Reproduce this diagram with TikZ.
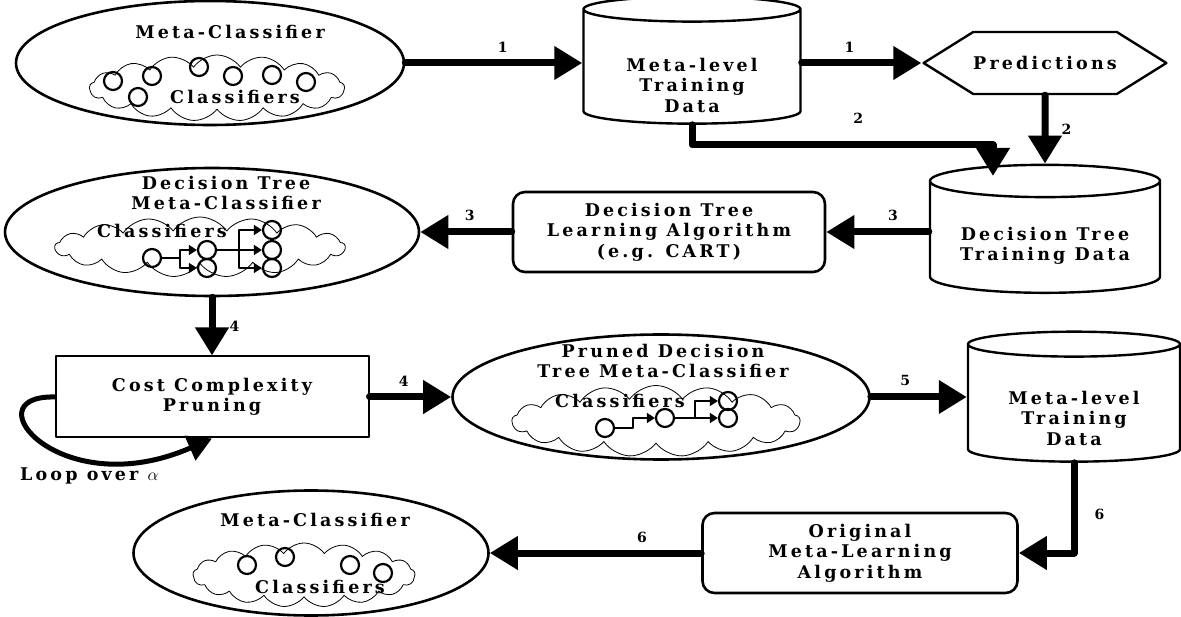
\documentclass[tikz,border=0pt]{standalone}
\usepackage{fontspec}
\setmainfont{DejaVu Serif}[LetterSpace=18]
\usetikzlibrary{arrows.meta,shapes.geometric,shapes.symbols}
\begin{document}
\begin{tikzpicture}[line cap=round,line join=round,x=1pt,y=-1pt,
  txt/.style={font=\bfseries\fontsize{17.5}{20.5}\selectfont,align=center,inner sep=0pt},
  num/.style={font=\bfseries\fontsize{14}{17}\selectfont,inner sep=0pt},
  flow/.style={-{Triangle[length=28pt,width=32pt]},line width=7pt},
  blob/.style={ellipse,draw,line width=2.6pt,inner sep=0pt},
  store/.style={cylinder,shape border rotate=90,draw,line width=2.4pt,aspect=0.19,txt},
  algbox/.style={rectangle,rounded corners=12pt,draw,line width=2.6pt,txt},
  puff/.style={cloud,cloud puffs=17,cloud puff arc=110,cloud ignores aspect,draw,line width=0.8pt,inner sep=0pt},
  clf/.style={circle,draw,line width=2.2pt,minimum size=18pt,inner sep=0pt},
  twig/.style={-{Triangle[length=8pt,width=10pt]},line width=1.3pt}]
\useasboundingbox (0,0) rectangle (1181,617);
% top row
\node[blob,minimum width=388pt,minimum height=124pt] (mca) at (210,63) {};
\node[txt] (mcatitle) at (230,32) {Meta-Classifier};
\node[puff,minimum width=255pt,minimum height=66pt] (clouda) at (217,88) {};
\foreach \cx/\cy [count=\i] in {113/81,152/76,199/67,233/76,272/75,306/82,138/97}
  \node[clf] (ca\i) at (\cx,\cy) {};
\node[txt] (clfa) at (235,97) {Classifiers};
\node[store,minimum width=217pt,minimum height=127pt] (metaa) at (692,67) {\phantom{Meta-level}\\\phantom{Training}\\\phantom{Data}};
\node[txt] (metaatxt) at (692,85) {Meta-level\\Training\\Data};
\node[signal,signal to=west and east,signal pointer angle=64,draw,line width=2.4pt,
  minimum width=206pt,minimum height=62pt,txt] (pred) at (1045,63) {Predictions};
\draw[flow] (mca.east) -- node[num,above=6.5pt,pos=0.55] {1} (mca.east -| metaa.west);
\draw[flow] (metaa.east |- pred.west) -- node[num,above=6.5pt,pos=0.4] {1} (pred.west);
% second row
\node[store,minimum width=230pt,minimum height=128pt] (dttd) at (1045,237.5) {\phantom{Decision Tree}\\\phantom{Training Data}};
\node[txt] (dttdtxt) at (1045,246) {Decision Tree\\Training Data};
\coordinate (turnb) at (993,145);
\coordinate (dropb) at (993,176);
\draw[flow] (metaa.south) |- node[num,above=17.5pt,pos=0.776] {2} (turnb) -- (dropb);
\draw[flow] (pred) -- node[num,right=13pt] {2} (dttd.north);
\node[algbox,minimum width=312pt,minimum height=80pt] (dtalg) at (669,232) {Decision Tree\\Learning Algorithm\\(e.g. CART)};
\node[blob,minimum width=414pt,minimum height=128pt] (dtmc) at (212,232) {};
\node[txt] (dtmctitle) at (226,193) {Decision Tree\\Meta-Classifier};
\node[puff,minimum width=290pt,minimum height=60pt] (cloudb) at (200,247) {};
\node[txt] (clfb) at (162,231) {Classifiers};
\node[clf] (dr) at (152,258) {};
\node[clf] (da) at (207,250) {};
\node[clf] (db) at (207,268) {};
\node[clf] (dc) at (272,230) {};
\node[clf] (dd) at (272,250) {};
\node[clf] (de) at (272,268) {};
\coordinate (dforka) at (180,258);
\coordinate (dforkb) at (239,250);
\draw[line width=1.3pt] (dr) -- (dforka);
\draw[twig] (dforka) |- (da);
\draw[twig] (dforka) |- (db);
\draw[line width=1.3pt] (da) -- (dforkb);
\draw[twig] (dforkb) |- (dc);
\draw[twig] (dforkb) -- (dd);
\draw[twig] (dforkb) |- (de);
\draw[flow] (dttd.west |- dtalg.east) -- node[num,above=7.5pt,pos=0.35] {3} (dtalg.east);
\draw[flow] (dtalg) -- node[num,above=7.5pt,pos=0.46] {3} (dtmc);
% third row
\node[draw,line width=2pt,minimum width=313pt,minimum height=81pt,txt] (cost) at (212,397) {Cost Complexity\\Pruning};
\draw[flow] (dtmc) -- node[num,right=14pt] {4} (cost);
\draw[line width=5pt,-{Triangle[length=24pt,width=26pt]}] (cost.west) .. controls (-30,395) and (60,505) .. (cost.south);
\node[txt,anchor=west] (looplbl) at (20,476) {Loop over $\alpha$};
\node[blob,minimum width=417pt,minimum height=125pt] (pruned) at (661,397) {};
\node[txt] (prunedtitle) at (663,361) {Pruned Decision\\Tree Meta-Classifier};
\node[puff,minimum width=288pt,minimum height=71pt] (cloudc) at (656,421) {};
\node[txt] (clfc) at (620,401) {Classifiers};
\node[clf] (pr) at (605,428) {};
\node[clf] (pa) at (665,418) {};
\node[clf] (pb) at (728,401) {};
\node[clf] (pc) at (728,418) {};
\coordinate (pkink) at (633,428);
\coordinate (pfork) at (695,418);
\draw[twig] (pr) -- (pkink) |- (pa);
\draw[line width=1.3pt] (pa) -- (pfork);
\draw[twig] (pfork) |- (pb);
\draw[twig] (pfork) -- (pc);
\draw[flow] (cost) -- node[num,above=6.5pt,pos=0.42] {4} (pruned);
\node[store,minimum width=212pt,minimum height=130pt] (metab) at (1074,403.5) {\phantom{Meta-level}\\\phantom{Training}\\\phantom{Data}};
\node[txt] (metabtxt) at (1074,418) {Meta-level\\Training\\Data};
\draw[flow] (pruned.east) -- node[num,above=7.5pt,pos=0.36] {5} (pruned.east -| metab.west);
% bottom row
\node[algbox,minimum width=315pt,minimum height=80pt] (orig) at (860,553) {Original\\Meta-Learning\\Algorithm};
\draw[flow] (metab.south) |- node[num,right=17pt,pos=0.285] {6} (orig);
\node[blob,minimum width=355pt,minimum height=125pt] (mcc) at (311,553) {};
\node[txt] (mcctitle) at (315,520) {Meta-Classifier};
\node[puff,minimum width=222pt,minimum height=64pt] (cloudd) at (304,575) {};
\foreach \cx/\cy [count=\i] in {247/565,285/557,350/565,383/573}
  \node[clf] (cd\i) at (\cx,\cy) {};
\node[txt] (clfd) at (320,587) {Classifiers};
\draw[flow] (orig) -- node[num,above=6.5pt,pos=0.28] {6} (mcc);
\end{tikzpicture}
\end{document}
